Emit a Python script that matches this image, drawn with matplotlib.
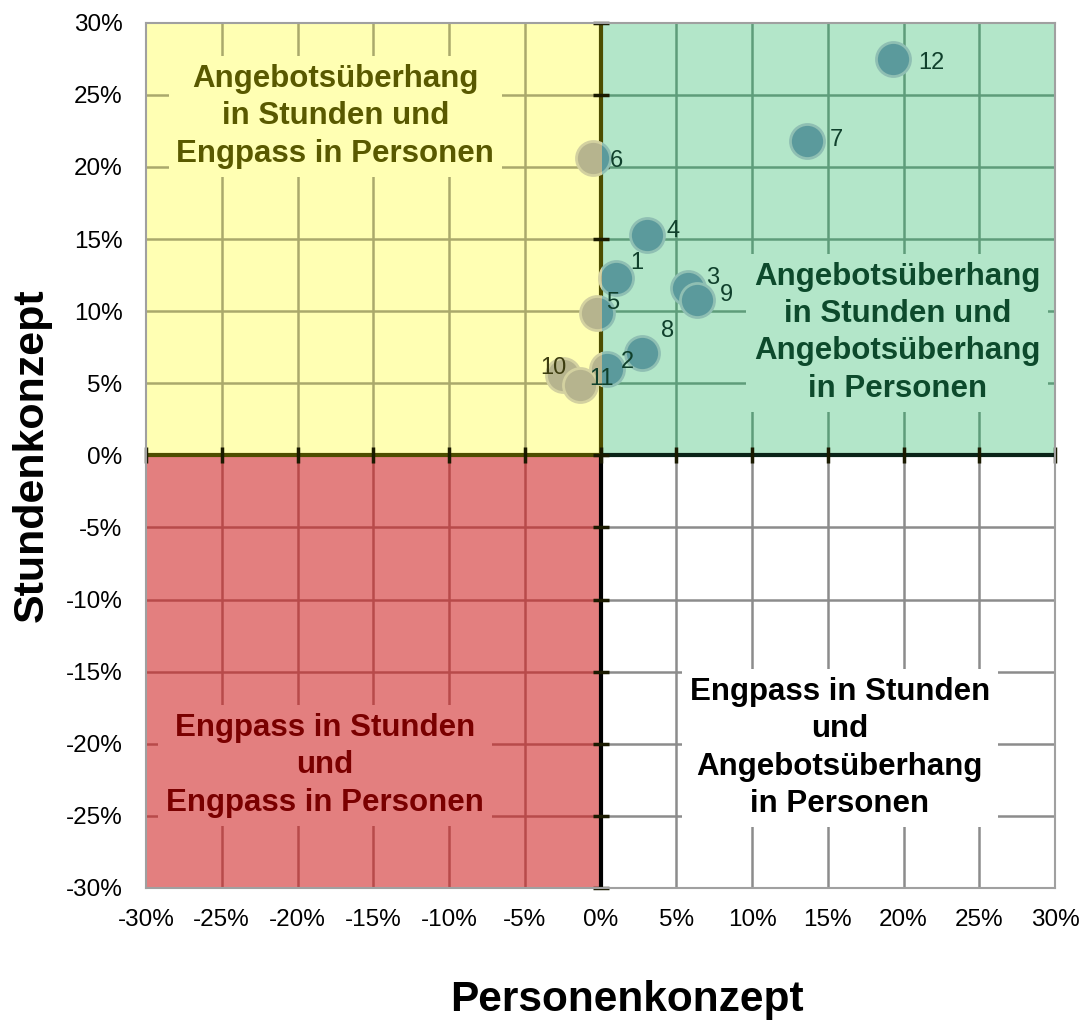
import numpy as np
import matplotlib.pyplot as plt
from matplotlib.patches import Rectangle

plt.rcParams['font.family'] = ['Liberation Sans', 'DejaVu Sans']

# values in percent
point_labels = ['1', '2', '3', '4', '5', '6', '7', '8', '9', '10', '11', '12']
personen = [1.0, 0.45, 5.75, 3.1, -0.25, -0.5, 13.6, 2.75, 6.4, -2.5, -1.35, 19.3]
stunden = [12.3, 6.0, 11.6, 15.3, 9.9, 20.6, 21.8, 7.1, 10.75, 5.6, 4.9, 27.5]
ticks = np.arange(-30, 31, 5)
tick_labels = [f'{t}%' for t in ticks]

quadrant_texts = [
    'Angebotsüberhang\nin Stunden und\nEngpass in Personen',
    'Angebotsüberhang\nin Stunden und\nAngebotsüberhang\nin Personen',
    'Engpass in Stunden\nund\nEngpass in Personen',
    'Engpass in Stunden\nund\nAngebotsüberhang\nin Personen',
]

# style: (x0, y0, fill, grid colour, text colour, text x, text y)
quad_style = [
    (-30, 0, '#ffffb3', '#aaa96c', '#595900', -17.5, 23.5),
    (0, 0, '#b3e6c9', '#5e9c7a', '#0d4a2c', 19.6, 8.5),
    (-30, -30, '#e37f7f', '#b84a4a', '#7a0000', -18.2, -21.5),
    (0, -30, '#ffffff', '#8c8c8c', '#000000', 15.8, -20.3),
]

# label offsets in pixels (dx, dy)
label_off = [(21, 15), (20, 7), (25, 10), (26, 4), (16, 10), (23, -3),
             (30, 1), (25, 22), (29, 5), (-9, 7), (21, 6), (38, -4)]

fig = plt.figure(figsize=(10.82, 10.27), dpi=100)
ax = fig.add_axes([146 / 1082, 1 - 888 / 1027, 909 / 1082, 865.3 / 1027])
ax.set_xlim(-30, 30)
ax.set_ylim(-30, 30)

for (x0, y0, fill, gc, tc, tx, ty), txt in zip(quad_style, quadrant_texts):
    ax.add_patch(Rectangle((x0, y0), 30, 30, facecolor=fill, edgecolor='none', zorder=0))
    inner = [t for t in ticks if x0 < t < x0 + 30]
    ax.vlines(inner, y0, y0 + 30, colors=gc, lw=1.8, zorder=1)
    inner = [t for t in ticks if y0 < t < y0 + 30]
    ax.hlines(inner, x0, x0 + 30, colors=gc, lw=1.8, zorder=1)
    ax.text(tx, ty, txt, ha='center', va='center', fontsize=22.5, fontweight='bold',
            color=tc, linespacing=1.32, zorder=2,
            bbox=dict(boxstyle='square,pad=0.25', facecolor=fill, edgecolor='none'))

# zero axes with cross ticks
ax.plot([0, 0], [0, 30], color='#4d4d00', lw=3, zorder=3, solid_capstyle='butt')
ax.plot([0, 0], [-30, 0], color='#000000', lw=3, zorder=3, solid_capstyle='butt')
ax.plot([-30, 0], [0, 0], color='#4d4d00', lw=3, zorder=3, solid_capstyle='butt')
ax.plot([0, 30], [0, 0], color='#0a2418', lw=3, zorder=3, solid_capstyle='butt')
ax.plot(np.zeros(len(ticks)), ticks, ls='none', marker='_', ms=11, mew=2.5,
        color='#1a1a00', zorder=3, clip_on=False)
ax.plot(ticks, np.zeros(len(ticks)), ls='none', marker='|', ms=11, mew=2.5,
        color='#1a1a00', zorder=3, clip_on=False)

# points: teal on the right half, khaki on the left half
right = ax.scatter(personen, stunden, s=600, facecolor='#5b9a9c', edgecolor='#8fbfb3',
                   linewidth=2, zorder=4)
right.set_clip_path(Rectangle((0, -30), 30, 60, transform=ax.transData))
left = ax.scatter(personen, stunden, s=600, facecolor='#b6b48e', edgecolor='#d3d1a0',
                  linewidth=2, zorder=4)
left.set_clip_path(Rectangle((-30, -30), 30, 60, transform=ax.transData))

for lab, x, y, (dx, dy) in zip(point_labels, personen, stunden, label_off):
    ax.annotate(lab, (x, y), xytext=(dx, dy), textcoords='offset pixels',
                ha='center', va='center', fontsize=17,
                color='#3d3d10' if x + dx / 15.15 < 0 else '#10402c', zorder=5)

ax.set_xticks(ticks)
ax.set_xticklabels(tick_labels)
ax.set_yticks(ticks)
ax.set_yticklabels(tick_labels)
ax.tick_params(length=0, labelsize=17.5)
ax.tick_params(axis='x', pad=15)
ax.tick_params(axis='y', pad=17)
for sp in ax.spines.values():
    sp.set_color('#a0a0a0')
    sp.set_linewidth(1.5)
    sp.set_zorder(6)

fig.text(627 / 1082, 1 - 1000 / 1027, 'Personenkonzept', ha='center', va='center',
         fontsize=30.5, fontweight='bold')
fig.text(32 / 1082, 1 - 455 / 1027, 'Stundenkonzept', ha='center', va='center',
         rotation=90, fontsize=31, fontweight='bold')

fig.savefig('out.png', dpi=100)
